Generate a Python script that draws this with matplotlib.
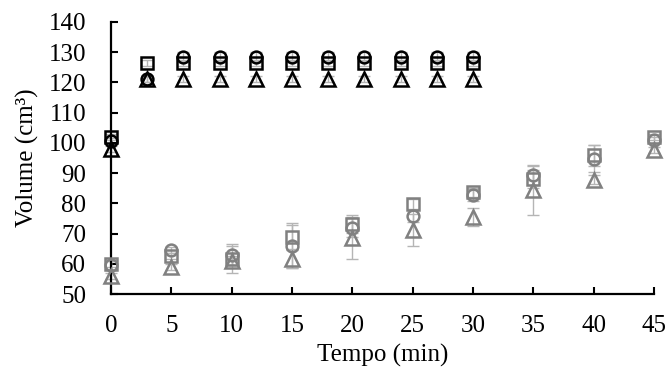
import matplotlib
matplotlib.use("Agg")
import matplotlib.pyplot as plt

plt.rcParams['font.family'] = ['Liberation Serif', 'DejaVu Serif']

# Black series (0-30 min, every 3 min)
t_black = [0, 3, 6, 9, 12, 15, 18, 21, 24, 27, 30]
black_sq = [102, 126.5, 126.5, 126.5, 126.5, 126.5, 126.5, 126.5, 126.5, 126.5, 126.5]
black_ci = [100.5, 121, 128.5, 128.5, 128.5, 128.5, 128.5, 128.5, 128.5, 128.5, 128.5]
black_tr = [98, 121, 121, 121, 121, 121, 121, 121, 121, 121, 121]
black_sq_err = [1, 1, 1, 1, 1, 1, 1, 1, 1, 1, 1]
black_ci_err = [1, 1, 1.5, 1.5, 1.5, 1.5, 1.5, 1.5, 1.5, 1.5, 1.5]
black_tr_err = [1, 1, 1, 1, 1, 1, 1, 1, 1, 1, 1]

# Gray series (0-45 min, every 5 min)
t_gray = [0, 5, 10, 15, 20, 25, 30, 35, 40, 45]
gray_sq = [60, 62.5, 61.5, 69, 73.3, 79.8, 83.7, 88, 95.9, 102]
gray_ci = [59.5, 64.5, 63, 66, 72, 75.7, 82.7, 89.3, 94.8, 100.8]
gray_tr = [56, 59, 61, 61.5, 68.5, 71.3, 75.5, 84.3, 87.8, 97.8]
gray_sq_err = [1, 1, 4.5, 4, 3, 1.5, 1.5, 3, 3.5, 1]
gray_ci_err = [1.5, 1, 3.5, 7.5, 3, 2, 2, 3.3, 4.5, 1]
gray_tr_err = [1, 1, 1.5, 3, 7, 5.3, 3, 8, 1.5, 1]

xticks = [0, 5, 10, 15, 20, 25, 30, 35, 40, 45]
yticks = [50, 60, 70, 80, 90, 100, 110, 120, 130, 140]

fig = plt.figure(figsize=(6.7, 3.78), dpi=100)
ax = fig.add_axes([0.1657, 0.222, 0.8103, 0.72])

ecol = '#b5b5b5'
gcol = '#808080'
ms = 8.5
mew = 1.8
fs = 18

def plot_series(x, y, err, marker, color, msz):
    ax.errorbar(x, y, yerr=err, fmt='none', ecolor=ecol, elinewidth=1.0,
                capsize=4.5, capthick=1.0, clip_on=False, zorder=2)
    ax.plot(x, y, linestyle='none', marker=marker, markersize=msz,
            markerfacecolor='none', markeredgecolor=color, markeredgewidth=mew,
            clip_on=False, zorder=3)

plot_series(t_gray, gray_sq, gray_sq_err, 's', gcol, ms)
plot_series(t_gray, gray_ci, gray_ci_err, 'o', gcol, ms)
plot_series(t_gray, gray_tr, gray_tr_err, '^', gcol, ms + 1)
plot_series(t_black, black_sq, black_sq_err, 's', 'black', ms)
plot_series(t_black, black_ci, black_ci_err, 'o', 'black', ms)
plot_series(t_black, black_tr, black_tr_err, '^', 'black', ms + 1)

ax.set_xlim(0, 45)
ax.set_ylim(50, 140)
ax.set_xticks(xticks)
ax.set_yticks(yticks)
ax.spines['top'].set_visible(False)
ax.spines['right'].set_visible(False)
ax.spines['left'].set_linewidth(1.6)
ax.spines['bottom'].set_linewidth(1.6)
ax.tick_params(axis='both', direction='in', length=5, width=1.5, labelsize=fs)
ax.tick_params(axis='y', pad=18)
ax.tick_params(axis='x', pad=15)

ax.set_xlabel('Tempo (min)', fontsize=fs, labelpad=5)
ax.set_ylabel('Volume (cm³)', fontsize=fs, labelpad=7)

fig.savefig('out.png', dpi=100)
